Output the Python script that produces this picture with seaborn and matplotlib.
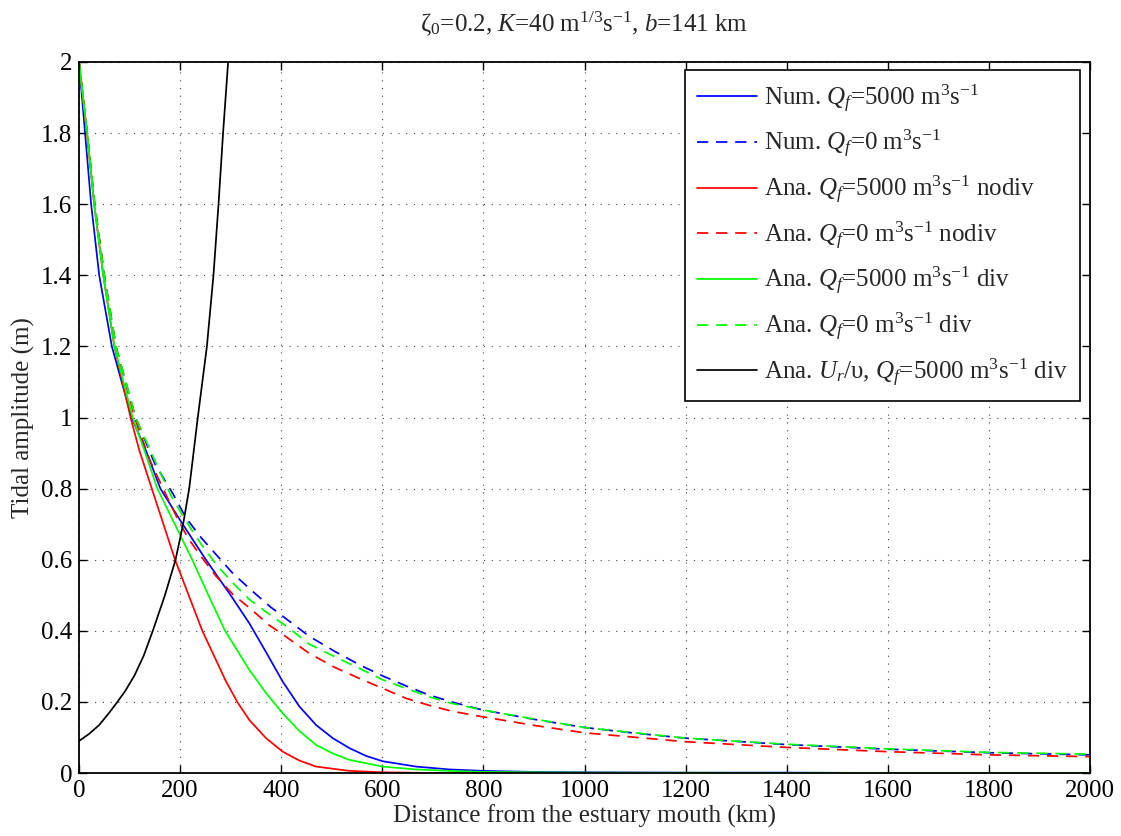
import numpy as np
import pandas as pd
import seaborn as sns
import matplotlib
matplotlib.use("Agg")
import matplotlib.pyplot as plt

# ---------------- data ----------------
# Num. Qf=5000 (blue solid)
num_q5000_x = [0, 12, 24, 40, 65, 104, 133, 161, 205, 251, 300, 337, 370, 403, 436, 469, 502, 535, 568, 601, 667, 733, 799, 900, 1000, 1200, 1400, 1600, 1800, 2000]
num_q5000_y = [2.0, 1.8, 1.6, 1.4, 1.2, 1.0, 0.905, 0.8, 0.7, 0.6, 0.5, 0.421, 0.34, 0.257, 0.187, 0.135, 0.098, 0.07, 0.048, 0.033, 0.018, 0.01, 0.006, 0.003, 0.002, 0.001, 0.001, 0.0, 0.0, 0.0]

# Num. Qf=0 (blue dashed)
num_q0_x = [0, 16, 31, 50, 73, 112, 150, 186, 211, 241, 274, 304, 341, 378, 417, 455, 506, 558, 601, 647, 691, 737, 799, 900, 1000, 1100, 1200, 1400, 1600, 1800, 2000]
num_q0_y = [2.0, 1.8, 1.6, 1.4, 1.2, 1.0, 0.87, 0.785, 0.719, 0.663, 0.61, 0.562, 0.514, 0.468, 0.426, 0.385, 0.342, 0.302, 0.273, 0.245, 0.22, 0.2, 0.177, 0.151, 0.128, 0.112, 0.098, 0.080, 0.067, 0.057, 0.051]

# Ana. Qf=5000 nodiv (red solid)
ana_q5000_nodiv_x = [0, 16, 30, 48, 70, 102, 119, 144, 190, 217, 244, 267, 290, 313, 337, 370, 403, 436, 469, 535, 600, 700, 2000]
ana_q5000_nodiv_y = [2.0, 1.8, 1.6, 1.4, 1.2, 1.0, 0.909, 0.8, 0.6, 0.5, 0.4, 0.33, 0.26, 0.2, 0.149, 0.098, 0.06, 0.035, 0.018, 0.006, 0.002, 0.0, 0.0]

# Ana. Qf=0 nodiv (red dashed)
ana_q0_nodiv_x = [0, 16, 31, 50, 73, 110, 140, 174, 195, 216, 241, 271, 304, 341, 376, 403, 455, 506, 561, 601, 647, 691, 737, 799, 900, 1000, 1200, 1400, 1600, 1800, 2000]
ana_q0_nodiv_y = [2.0, 1.8, 1.6, 1.4, 1.2, 1.0, 0.88, 0.777, 0.715, 0.66, 0.61, 0.554, 0.503, 0.46, 0.416, 0.39, 0.337, 0.297, 0.262, 0.238, 0.21, 0.191, 0.174, 0.158, 0.134, 0.113, 0.088, 0.072, 0.06, 0.051, 0.046]

# Ana. Qf=5000 div (green solid)
ana_q5000_div_x = [0, 16, 30, 48, 70, 106, 129, 155, 224, 256, 289, 337, 370, 403, 436, 469, 502, 535, 601, 667, 733, 800, 1000, 2000]
ana_q5000_div_y = [2.0, 1.8, 1.6, 1.4, 1.2, 1.0, 0.909, 0.8, 0.6, 0.5, 0.4, 0.29, 0.225, 0.168, 0.118, 0.079, 0.055, 0.037, 0.018, 0.01, 0.006, 0.003, 0.001, 0.0]

# Ana. Qf=0 div (green dashed)
ana_q0_div_x = [0, 16, 31, 50, 73, 112, 162, 184, 211, 243, 274, 304, 338, 376, 413, 455, 506, 558, 601, 647, 691, 737, 799, 900, 1000, 1200, 1400, 1600, 1800, 2000]
ana_q0_div_y = [2.0, 1.8, 1.6, 1.4, 1.2, 1.0, 0.841, 0.775, 0.71, 0.641, 0.582, 0.535, 0.487, 0.447, 0.41, 0.363, 0.327, 0.292, 0.262, 0.238, 0.215, 0.196, 0.177, 0.152, 0.128, 0.098, 0.081, 0.068, 0.058, 0.053]

# Ana. Ur/upsilon (black solid)
ur_ratio_x = [0, 20, 40, 60, 76, 92, 110, 128, 146, 170, 191, 206, 218, 235, 253, 266, 276, 285, 295]
ur_ratio_y = [0.09, 0.11, 0.135, 0.17, 0.2, 0.232, 0.275, 0.33, 0.4, 0.5, 0.6, 0.7, 0.8, 1.0, 1.2, 1.4, 1.6, 1.8, 2.0]

x_ticks = [0, 200, 400, 600, 800, 1000, 1200, 1400, 1600, 1800, 2000]
y_ticks = [0, 0.2, 0.4, 0.6, 0.8, 1.0, 1.2, 1.4, 1.6, 1.8, 2.0]
y_tick_labels = ["0", "0.2", "0.4", "0.6", "0.8", "1", "1.2", "1.4", "1.6", "1.8", "2"]

labels = [
    r"Num. $Q_f$=5000 m$^3$s$^{-1}$",
    r"Num. $Q_f$=0 m$^3$s$^{-1}$",
    r"Ana. $Q_f$=5000 m$^3$s$^{-1}$ nodiv",
    r"Ana. $Q_f$=0 m$^3$s$^{-1}$ nodiv",
    r"Ana. $Q_f$=5000 m$^3$s$^{-1}$ div",
    r"Ana. $Q_f$=0 m$^3$s$^{-1}$ div",
    r"Ana. $U_r$/υ, $Q_f$=5000 m$^3$s$^{-1}$ div",
]

# ---------------- style ----------------
sns.set_style("ticks")
plt.rcParams["font.family"] = ["Liberation Serif", "DejaVu Serif"]
plt.rcParams["mathtext.fontset"] = "custom"
plt.rcParams["mathtext.rm"] = "Liberation Serif"
plt.rcParams["mathtext.it"] = "Liberation Serif:italic"
plt.rcParams["mathtext.bf"] = "Liberation Serif:bold"
plt.rcParams["axes.unicode_minus"] = True

FS = 18

fig = plt.figure(figsize=(11.21, 8.36), dpi=100)
ax = fig.add_axes([79 / 1121, 1 - 773 / 836, (1090 - 79) / 1121, (773 - 62) / 836])

series = [
    (num_q5000_x, num_q5000_y, "#0000ff", "-"),
    (num_q0_x, num_q0_y, "#0000ff", "--"),
    (ana_q5000_nodiv_x, ana_q5000_nodiv_y, "#ff0000", "-"),
    (ana_q0_nodiv_x, ana_q0_nodiv_y, "#ff0000", "--"),
    (ana_q5000_div_x, ana_q5000_div_y, "#00ff00", "-"),
    (ana_q0_div_x, ana_q0_div_y, "#00ff00", "--"),
    (ur_ratio_x, ur_ratio_y, "#000000", "-"),
]

handles = []
for (xs, ys, col, ls), lab in zip(series, labels):
    df = pd.DataFrame({"x": xs, "y": ys})
    sns.lineplot(data=df, x="x", y="y", ax=ax, color=col, linewidth=1.25,
                 sort=False, estimator=None, label=lab, legend=False)
    line = ax.lines[-1]
    if ls == "--":
        line.set_dashes((6.5, 4.5))
    line.set_zorder(3)
    handles.append(line)

ax.set_xlim(0, 2000)
ax.set_ylim(0, 2)
ax.set_xticks(x_ticks)
ax.set_xticklabels([str(t) for t in x_ticks])
ax.set_yticks(y_ticks)
ax.set_yticklabels(y_tick_labels)

ax.grid(True, color="#444444", linestyle=(0, (1, 6)), linewidth=0.8)
ax.tick_params(direction="in", top=True, right=True, length=6, width=1.0,
               labelsize=FS, colors="black", pad=5)
for sp in ax.spines.values():
    sp.set_linewidth(1.3)
    sp.set_color("black")
    sp.set_zorder(4)

ax.set_xlabel("Distance from the estuary mouth (km)", fontsize=FS, labelpad=2)
ax.set_ylabel("Tidal amplitude (m)", fontsize=FS, labelpad=4)
ax.set_title(r"ζ$_{\mathit{0}}$=0.2, $K$=40 m$^{1/3}$s$^{-1}$, $b$=141 km",
             fontsize=FS, pad=22)

leg = ax.legend(handles=handles, labels=labels, loc="upper right",
                bbox_to_anchor=(0.990, 0.989), borderaxespad=0,
                fontsize=FS, handlelength=2.4, labelspacing=0.53,
                frameon=True, fancybox=False, framealpha=1,
                edgecolor="black", borderpad=0.5, handletextpad=0.25)
leg.get_frame().set_linewidth(1.2)
leg.set_zorder(5)

fig.savefig("out.png", dpi=100)
